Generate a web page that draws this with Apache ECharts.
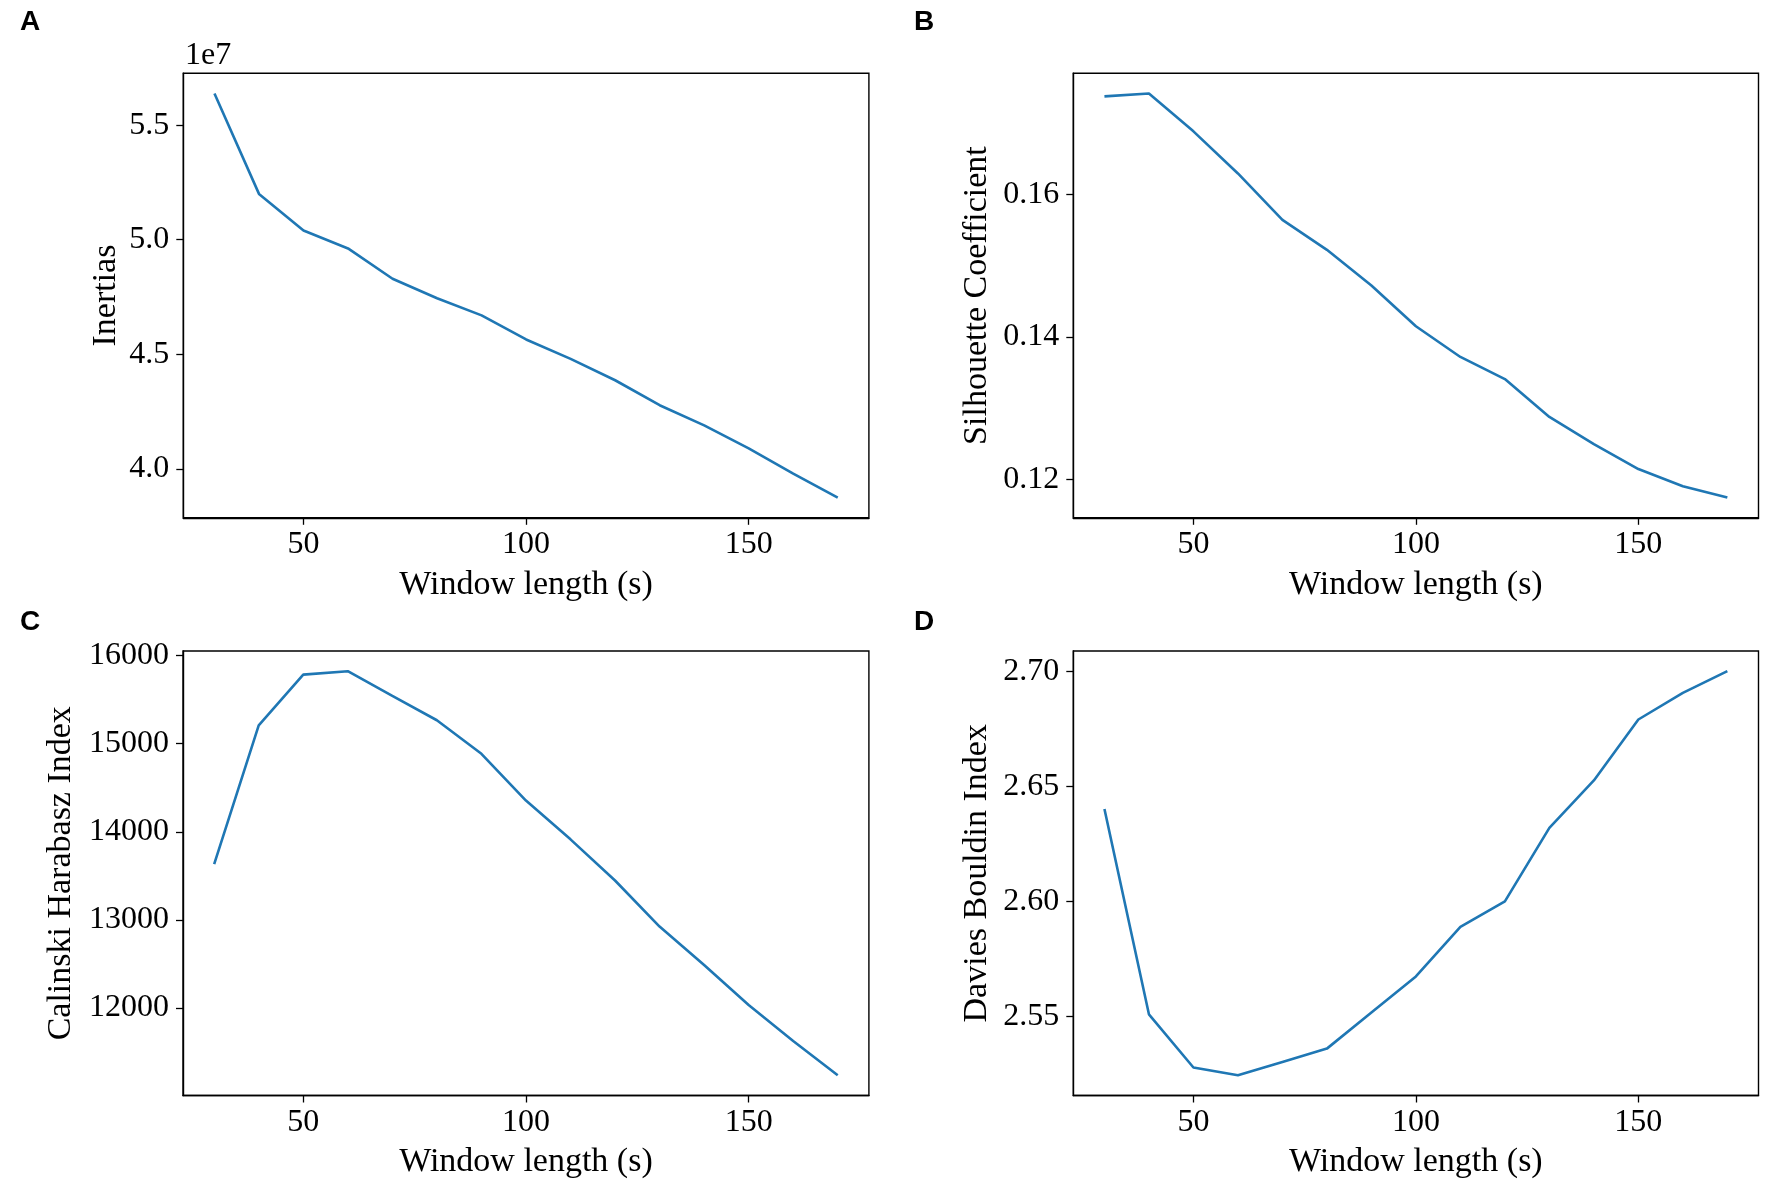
<!DOCTYPE html>
<html>
<head>
<meta charset="utf-8">
<script src="https://cdn.jsdelivr.net/npm/echarts@6.0.0/dist/echarts.min.js"></script>
<style>
html,body{margin:0;padding:0;background:#fff;}
#chart{width:1772px;height:1187px;}
</style>
</head>
<body>
<div id="chart"></div>
<script>
// ---- data ----
const windowLengths = [30, 40, 50, 60, 70, 80, 90, 100, 110, 120, 130, 140, 150, 160, 170];
const inertias = [56380000, 52000000, 50400000, 49620000, 48300000, 47450000, 46700000, 45650000, 44800000, 43870000, 42780000, 41900000, 40900000, 39800000, 38750000];
const silhouette = [0.1737, 0.1741, 0.1688, 0.1629, 0.1564, 0.1522, 0.1472, 0.1415, 0.1372, 0.1341, 0.1288, 0.1250, 0.1215, 0.1191, 0.1175];
const calinski = [13633, 15209, 15784, 15823, 15542, 15266, 14885, 14354, 13914, 13447, 12924, 12488, 12034, 11624, 11235];
const davies = [2.6401, 2.5508, 2.5277, 2.5243, 2.5301, 2.5359, 2.5516, 2.5673, 2.5888, 2.5999, 2.6319, 2.6525, 2.6790, 2.6906, 2.7000];

const xTicks = [50, 100, 150];
const yTicksA = [40000000, 45000000, 50000000, 55000000];
const yTicksB = [0.12, 0.14, 0.16];
const yTicksC = [12000, 13000, 14000, 15000, 16000];
const yTicksD = [2.55, 2.60, 2.65, 2.70];

const panelLetters = ['A', 'B', 'C', 'D'];
const yNames = ['Inertias', 'Silhouette Coefficient', 'Calinski Harabasz Index', 'Davies Bouldin Index'];
const xName = 'Window length (s)';

// ---- layout / style ----
const SERIF = 'Liberation Serif';
const grids = [
  {left: 183.3, top: 73.3, width: 685.6, height: 444.5},
  {left: 1073.3, top: 73.3, width: 685.2, height: 444.5},
  {left: 183.0, top: 651, width: 685.9, height: 444.5},
  {left: 1073.3, top: 651, width: 685.2, height: 444.5}
];
const yNameGaps = [60, 79, 105, 79];
const yTickSets = [yTicksA, yTicksB, yTicksC, yTicksD];
const yFormatters = [
  v => (v / 1e7).toFixed(1),
  v => v.toFixed(2),
  v => String(Math.round(v)),
  v => v.toFixed(2)
];
const seriesData = [inertias, silhouette, calinski, davies];

const padMin = e => e.min - 0.05 * (e.max - e.min);
const padMax = e => e.max + 0.05 * (e.max - e.min);

const option = {
  backgroundColor: '#ffffff',
  animation: false,
  grid: grids.map(g => Object.assign({show: true, borderColor: '#000', borderWidth: 1.4, backgroundColor: 'transparent'}, g)),
  xAxis: grids.map((g, i) => ({
    type: 'value', gridIndex: i,
    min: padMin, max: padMax,
    name: xName, nameLocation: 'middle', nameGap: 50,
    nameTextStyle: {fontFamily: SERIF, fontSize: 34, color: '#000'},
    axisLine: {show: true, onZero: false, lineStyle: {color: '#000', width: 1.4}},
    axisTick: {show: true, inside: false, length: 7, customValues: xTicks, lineStyle: {color: '#000', width: 1.3}},
    axisLabel: {show: true, customValues: xTicks, margin: 11, fontFamily: SERIF, fontSize: 32, color: '#000'},
    splitLine: {show: false}
  })),
  yAxis: grids.map((g, i) => ({
    type: 'value', gridIndex: i,
    min: padMin, max: padMax,
    name: yNames[i], nameLocation: 'middle', nameGap: yNameGaps[i],
    nameTextStyle: {fontFamily: SERIF, fontSize: 34, color: '#000'},
    axisLine: {show: true, onZero: false, lineStyle: {color: '#000', width: 1.4}},
    axisTick: {show: true, inside: false, length: 7, customValues: yTickSets[i], lineStyle: {color: '#000', width: 1.3}},
    axisLabel: {show: true, customValues: yTickSets[i], margin: 14, fontFamily: SERIF, fontSize: 32, color: '#000', formatter: yFormatters[i]},
    splitLine: {show: false}
  })),
  series: seriesData.map((d, i) => ({
    type: 'line', xAxisIndex: i, yAxisIndex: i,
    data: windowLengths.map((x, k) => [x, d[k]]),
    showSymbol: false, symbol: 'none',
    lineStyle: {color: '#1f77b4', width: 2.6},
    itemStyle: {color: '#1f77b4'}
  })),
  graphic: [
    {type: 'text', left: 20, top: 8, style: {text: panelLetters[0], font: 'bold 28px "Liberation Sans"', fill: '#000'}},
    {type: 'text', left: 914, top: 8, style: {text: panelLetters[1], font: 'bold 28px "Liberation Sans"', fill: '#000'}},
    {type: 'text', left: 20, top: 608, style: {text: panelLetters[2], font: 'bold 28px "Liberation Sans"', fill: '#000'}},
    {type: 'text', left: 914, top: 608, style: {text: panelLetters[3], font: 'bold 28px "Liberation Sans"', fill: '#000'}},
    {type: 'text', left: 185, top: 40, style: {text: '1e7', font: '32px "Liberation Serif"', fill: '#000'}}
  ]
};

const chart = echarts.init(document.getElementById('chart'), null, {renderer: 'canvas'});
chart.setOption(option);
</script>
</body>
</html>
